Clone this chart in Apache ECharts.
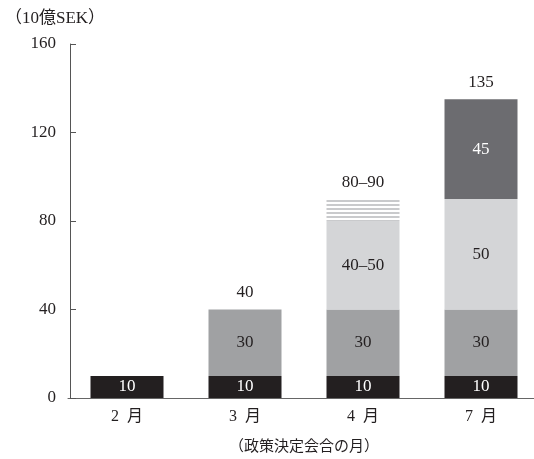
<!DOCTYPE html>
<html>
<head>
<meta charset="utf-8">
<script src="https://cdn.jsdelivr.net/npm/echarts@6/dist/echarts.min.js"></script>
<style>
  html, body { margin: 0; padding: 0; background: #fff; }
  #chart { width: 534px; height: 459px; }
</style>
</head>
<body>
<div id="chart"></div>
<script>
// Purchase amounts by policy meeting (SEK bn), stacked by tranche
const months = ['2\u2002月', '3\u2002月', '4\u2002月', '7\u2002月'];
const tranche1 = [10, 10, 10, 10];          // first purchase
const tranche2 = [null, 30, 30, 30];        // second purchase
const tranche3 = [null, null, 40, 50];      // third purchase
const tranche3Labels = ['', '', '40–50', '50'];
const tranche3Range = [null, null, 10, null]; // upper range of the third purchase
const tranche4 = [null, null, null, 45];    // fourth purchase
const totals = [10, 40, 90, 135];
const totalLabels = ['', '40', '80–90', '135'];
const yTicks = [0, 40, 80, 120, 160];

const FONT = '"Liberation Serif", "Noto Sans CJK JP", serif';
const INK = '#231f20';

// horizontal stripe fill for the range part
const stripe = document.createElement('canvas');
stripe.width = 4; stripe.height = 4;
const sctx = stripe.getContext('2d');
sctx.fillStyle = '#ffffff';
sctx.fillRect(0, 0, 4, 4);
sctx.fillStyle = '#c9cacc';
sctx.fillRect(0, 0, 4, 2);

const chart = echarts.init(document.getElementById('chart'), null, { renderer: 'canvas' });

function inner(color) {
  return {
    show: true, position: 'inside', color: color,
    fontFamily: FONT, fontSize: 17
  };
}

chart.setOption({
  animation: false,
  textStyle: { fontFamily: FONT },
  title: {
    text: '（10億SEK）', left: 0, top: 5,
    textStyle: { fontFamily: FONT, fontSize: 17, fontWeight: 'normal', color: INK }
  },
  grid: { left: 68, width: 472, top: 44, bottom: 61, outerBoundsMode: 'none', containLabel: false },
  xAxis: {
    type: 'category',
    data: months,
    name: '（政策決定会合の月）',
    nameLocation: 'middle',
    nameGap: 42,
    nameTextStyle: { fontFamily: FONT, fontSize: 15, color: INK },
    axisLine: { lineStyle: { color: '#666', width: 1 } },
    axisTick: { show: false },
    axisLabel: { fontFamily: FONT, fontSize: 16, color: INK, margin: 11 }
  },
  yAxis: {
    type: 'value',
    min: 0, max: 160, interval: 40,
    offset: -2,
    axisLine: { show: true, lineStyle: { color: '#555', width: 1 } },
    axisTick: { show: true, inside: true, length: 6, lineStyle: { color: '#555' } },
    splitLine: { show: false },
    axisLabel: {
      fontFamily: FONT, fontSize: 17, color: INK, margin: 14,
      formatter: v => (yTicks.indexOf(v) >= 0 ? String(v) : '')
    }
  },
  series: [
    {
      type: 'bar', stack: 'total', barWidth: 73, data: tranche1,
      itemStyle: { color: '#231f20' },
      label: inner('#ffffff')
    },
    {
      type: 'bar', stack: 'total', barWidth: 73, data: tranche2,
      itemStyle: { color: '#a0a1a3' },
      label: inner(INK)
    },
    {
      type: 'bar', stack: 'total', barWidth: 73, data: tranche3,
      itemStyle: { color: '#d4d5d7' },
      label: Object.assign(inner(INK), {
        formatter: p => tranche3Labels[p.dataIndex]
      })
    },
    {
      type: 'bar', stack: 'total', barWidth: 73, data: tranche3Range,
      itemStyle: { color: { image: stripe, repeat: 'repeat' } },
      label: { show: false }
    },
    {
      type: 'bar', stack: 'total', barWidth: 73, data: tranche4,
      itemStyle: { color: '#6c6c70' },
      label: inner('#ffffff')
    },
    {
      type: 'scatter', data: totals, symbolSize: 0, silent: true,
      itemStyle: { opacity: 1 },
      label: {
        show: true, position: 'top', distance: 8,
        fontFamily: FONT, fontSize: 17, color: INK,
        formatter: p => totalLabels[p.dataIndex]
      }
    }
  ]
});
</script>
</body>
</html>
